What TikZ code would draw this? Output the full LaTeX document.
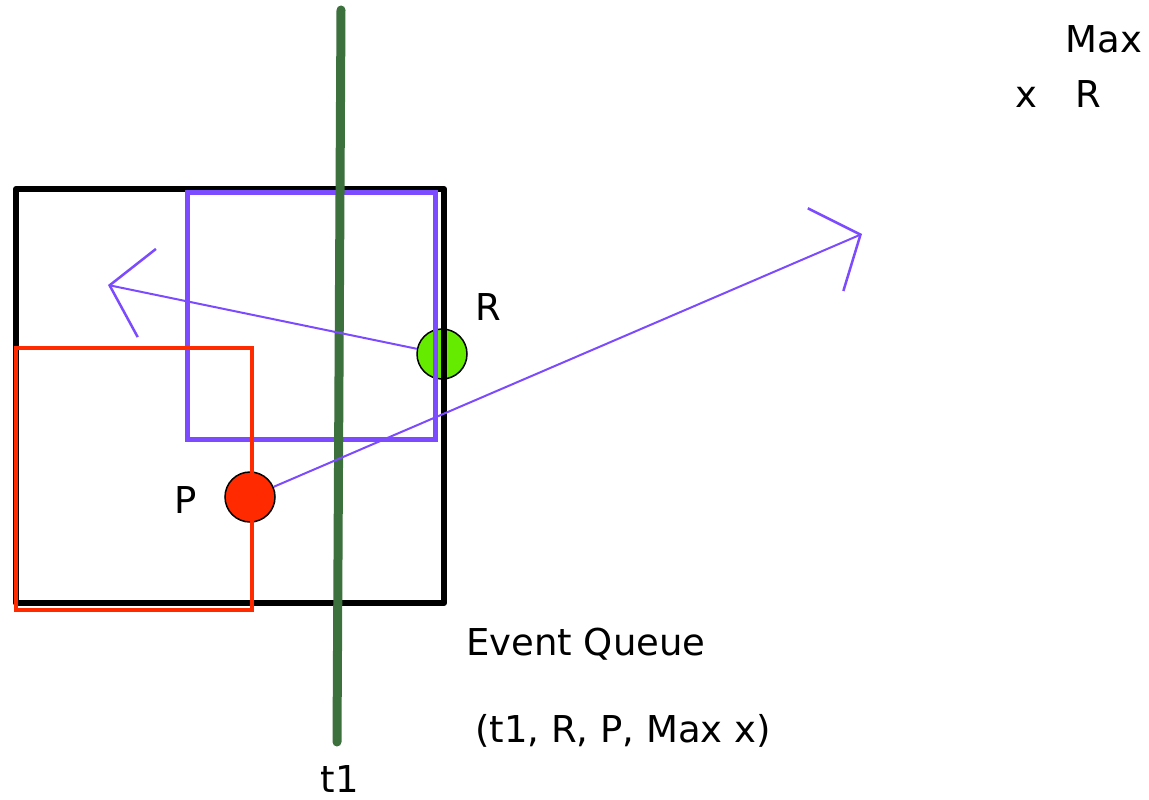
\documentclass[tikz,border=0pt]{standalone}
\usepackage{fontspec}
\setmainfont{DejaVu Sans}
\usetikzlibrary{arrows.meta}
\definecolor{sweepviolet}{RGB}{125,75,255}
\definecolor{pointred}{RGB}{255,42,0}
\definecolor{pointgreen}{RGB}{100,235,0}
\definecolor{sweepgreen}{RGB}{60,112,60}
\tikzset{
  dot/.style={circle, draw=black, line width=1.5pt, minimum size=50pt, inner sep=0pt},
  lbl/.style={anchor=base, inner sep=0pt, font=\fontsize{37}{44}\selectfont},
  motion/.style={sweepviolet, line width=2pt, -{Straight Barb[length=38pt, width=90pt, line width=2.5pt]}}
}

\begin{document}
\begin{tikzpicture}[x=1pt, y=-1pt]
\useasboundingbox (0,0) rectangle (1149,800);
\node[dot, fill=pointgreen] (R) at (442,354) {};
\node[dot, fill=pointred] (P) at (250,497) {};
\draw[line width=6pt, line join=round] (16,189) rectangle (444,603);
\draw[sweepviolet, line width=5pt] (187,192) rectangle (435,439);
\draw[pointred, line width=4pt] (16,348) rectangle (252,610);
\draw[sweepgreen, line width=9pt, line cap=round] (341,10) -- (337,742);
\coordinate (leftTip) at (108,285);
\coordinate (rightTip) at (862,234);
\draw[motion] (R) -- (leftTip);
\draw[motion] (P) -- (rightTip);
\node[lbl] (labR) at (488,320) {R};
\node[lbl] (labP) at (186,513) {P};
\node[lbl] (labMax) at (1104,53) {Max};
\node[lbl] (labX) at (1026,107) {x};
\node[lbl] (labMaxR) at (1088,107) {R};
\node[lbl, anchor=base west] (labQueue) at (466,655) {Event Queue};
\node[lbl, anchor=base west] (labEvents) at (475,742) {(t1, R, P, Max x)};
\node[lbl] (labT) at (340,792) {t1};
\end{tikzpicture}
\end{document}
